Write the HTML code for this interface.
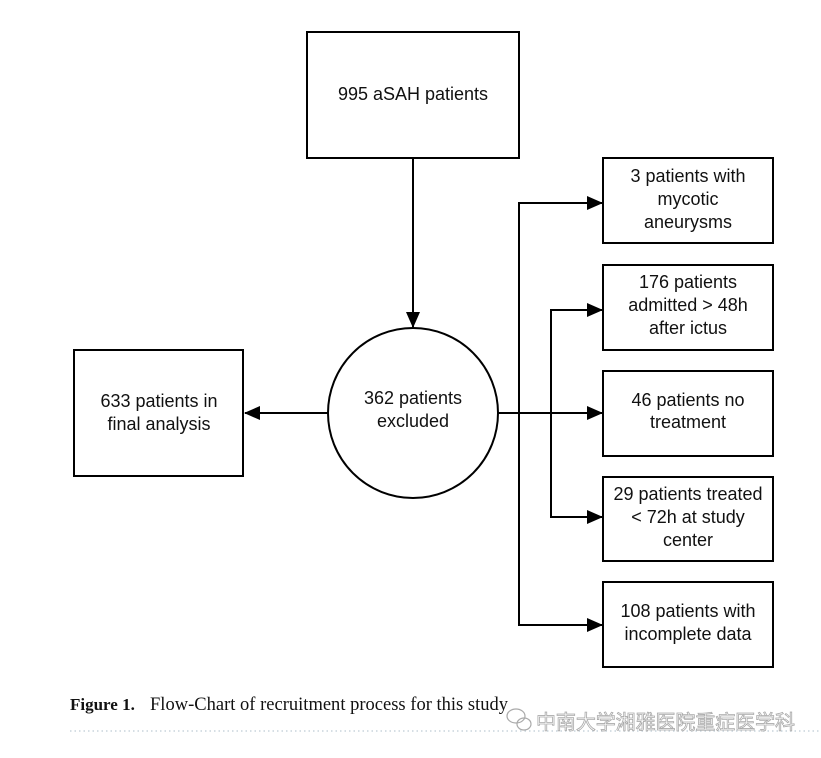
<!DOCTYPE html>
<html><head><meta charset="utf-8"><style>
html,body{margin:0;padding:0;background:#fff;width:821px;height:758px;overflow:hidden}
svg text{font-family:"Liberation Sans",sans-serif;font-size:18px;fill:#111}
</style></head><body>
<svg width="821" height="758" viewBox="0 0 821 758" xmlns="http://www.w3.org/2000/svg">
<defs><marker id="a" markerWidth="16" markerHeight="14" refX="15" refY="7" orient="auto" markerUnits="userSpaceOnUse"><path d="M0,0 L16,7 L0,14 Z" fill="#000"/></marker></defs>
<g fill="none" stroke="#000" stroke-width="2">
<rect x="307" y="32" width="212" height="126"/>
<rect x="74" y="350" width="169" height="126"/>
<circle cx="413" cy="413" r="85"/>
<rect x="603" y="158" width="170" height="85"/>
<rect x="603" y="265" width="170" height="85"/>
<rect x="603" y="371" width="170" height="85"/>
<rect x="603" y="477" width="170" height="84"/>
<rect x="603" y="582" width="170" height="85"/>
<line x1="413" y1="158" x2="413" y2="327" marker-end="url(#a)"/>
<line x1="328" y1="413" x2="245" y2="413" marker-end="url(#a)"/>
<line x1="498" y1="413" x2="602" y2="413" marker-end="url(#a)"/>
<polyline points="602,203 519,203 519,625 602,625" marker-end="url(#a)"/>
<line x1="519" y1="203" x2="602" y2="203" marker-end="url(#a)"/>
<polyline points="602,310 551,310 551,517 602,517" marker-end="url(#a)"/>
<line x1="551" y1="310" x2="602" y2="310" marker-end="url(#a)"/>
</g>
<g text-anchor="middle">
<text x="413" y="100">995 aSAH patients</text>
<text x="159" y="407">633 patients in</text><text x="159" y="430">final analysis</text>
<text x="413" y="404">362 patients</text><text x="413" y="427">excluded</text>
<text x="688" y="182">3 patients with</text><text x="688" y="205">mycotic</text><text x="688" y="228">aneurysms</text>
<text x="688" y="288">176 patients</text><text x="688" y="311">admitted &gt; 48h</text><text x="688" y="334">after ictus</text>
<text x="688" y="406">46 patients no</text><text x="688" y="428">treatment</text>
<text x="688" y="500">29 patients treated</text><text x="688" y="523">&lt; 72h at study</text><text x="688" y="546">center</text>
<text x="688" y="617">108 patients with</text><text x="688" y="640">incomplete data</text>
</g>
<text x="70" y="710" style="font-family:'Liberation Serif',serif;font-size:17px;font-weight:bold">Figure 1.</text>
<text x="150" y="710" textLength="358" style="font-family:'Liberation Serif',serif;font-size:18.5px">Flow-Chart of recruitment process for this study</text>
<line x1="70" y1="731" x2="821" y2="731" stroke="#c8d4dc" stroke-width="1.5" stroke-dasharray="1.5,3"/>
<g fill="none" stroke="#aaa" stroke-width="1.2"><ellipse cx="516" cy="716" rx="9" ry="7"/><ellipse cx="524" cy="724" rx="7" ry="6"/></g>
<text x="536" y="729" textLength="259" style="font-family:'Noto Sans CJK SC',sans-serif;font-size:20px;fill:#fff;stroke:#aaa;stroke-width:0.8">中南大学湘雅医院重症医学科</text>
</svg>
</body></html>
